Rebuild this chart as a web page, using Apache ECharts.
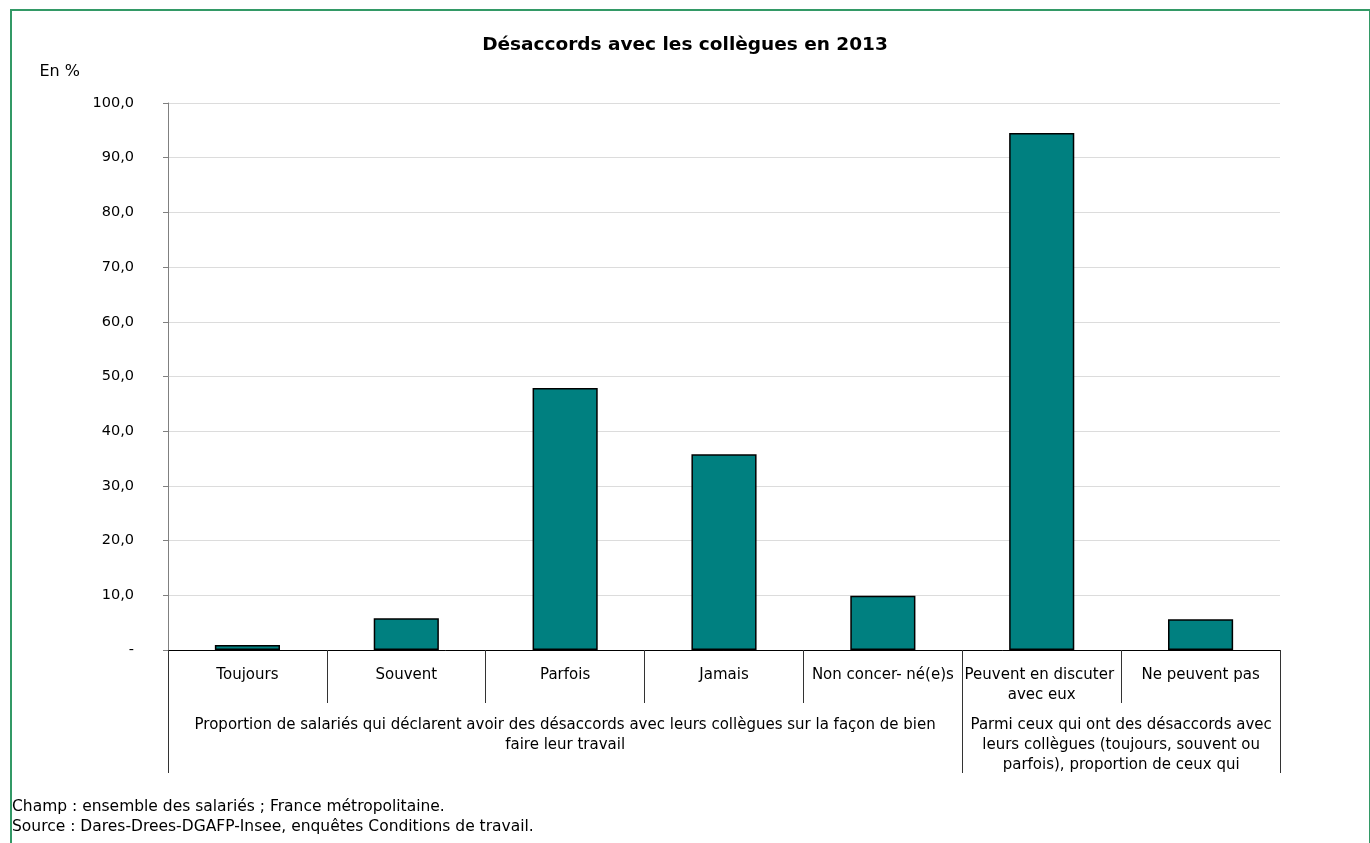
<!DOCTYPE html>
<html><head><meta charset="utf-8">
<script src="https://cdn.jsdelivr.net/npm/echarts@6/dist/echarts.min.js"></script>
<style>
html,body{margin:0;padding:0;background:#fff;}
#c{width:1370px;height:843px;}
#frame{position:absolute;left:10px;top:9px;width:1357px;height:900px;border-left:2px solid #339966;border-top:2px solid #339966;border-right:2px solid #339966;pointer-events:none;}
</style></head>
<body>
<div id="c"></div>
<div id="frame"></div>
<script>
const categories = ['Toujours','Souvent','Parfois','Jamais','Non concer- né(e)s','Peuvent en discuter avec eux','Ne peuvent pas'];
const values = [0.9, 5.8, 47.9, 35.8, 9.9, 94.5, 5.6];
const groupLabels = ['Proportion de salariés qui déclarent avoir des désaccords avec leurs collègues sur la façon de bien\nfaire leur travail',
  'Parmi ceux qui ont des désaccords avec\nleurs collègues (toujours, souvent ou\nparfois), proportion de ceux qui'];
const groupSpans = [5, 2];
const yTicks = [0,10,20,30,40,50,60,70,80,90,100];

const FONT = 'DejaVu Sans';
const bounds = [0]; const centers = [];
groupSpans.forEach(s => { const b = bounds[bounds.length-1]; centers.push(b + s/2); bounds.push(b + s); });

const chart = echarts.init(document.getElementById('c'));
chart.setOption({
  animation: false,
  title: { text: 'Désaccords avec les collègues en 2013', left: 'center', top: 31,
    textStyle: { fontFamily: FONT, fontSize: 18.5, fontWeight: 'bold', color: '#000' } },
  grid: { left: 168, right: 90, top: 103, bottom: 193 },
  xAxis: [{
    type: 'category', data: categories, position: 'bottom',
    axisLine: { lineStyle: { color: '#000', width: 1 } },
    axisTick: { show: true, interval: 0, length: 53, lineStyle: { color: '#333' } },
    axisLabel: { interval: 0, fontFamily: FONT, fontSize: 15, color: '#000', margin: 15,
      width: 156, overflow: 'break', lineHeight: 20 },
    splitLine: { show: false }
  }, {
    type: 'value', min: 0, max: bounds[bounds.length-1], position: 'bottom',
    axisLine: { show: false },
    axisTick: { show: true, customValues: bounds, length: 123, lineStyle: { color: '#333' } },
    axisLabel: { customValues: centers, fontFamily: FONT, fontSize: 15, color: '#000', margin: 65,
      lineHeight: 20, align: 'center',
      formatter: v => { const i = centers.indexOf(v); return i >= 0 ? groupLabels[i] : ''; } },
    splitLine: { show: false }
  }],
  yAxis: {
    type: 'value', min: yTicks[0], max: yTicks[yTicks.length-1], interval: 10,
    name: 'En %', nameLocation: 'end', nameGap: 23,
    nameTextStyle: { fontFamily: FONT, fontSize: 16, color: '#000', align: 'right', padding: [0, 88, 0, 0] },
    axisLine: { show: true, lineStyle: { color: '#808080' } },
    axisTick: { show: true, length: 5, lineStyle: { color: '#808080' } },
    axisLabel: { fontFamily: FONT, fontSize: 14.5, color: '#000', margin: 34,
      formatter: v => v === 0 ? '-' : v.toFixed(1).replace('.', ',') },
    splitLine: { show: true, lineStyle: { color: '#dcdcdc' } }
  },
  series: [{
    type: 'bar', data: values, barWidth: '41%', xAxisIndex: 0,
    itemStyle: { color: '#008080', borderColor: '#000', borderWidth: 1.5 }
  }],
  graphic: [
    { type: 'text', left: 12, top: 799, style: { text: 'Champ : ensemble des salariés ; France métropolitaine.', font: '15.5px "DejaVu Sans"', fill: '#000' } },
    { type: 'text', left: 12, top: 819, style: { text: 'Source : Dares-Drees-DGAFP-Insee, enquêtes Conditions de travail.', font: '15.5px "DejaVu Sans"', fill: '#000' } }
  ]
});
</script>
</body></html>
